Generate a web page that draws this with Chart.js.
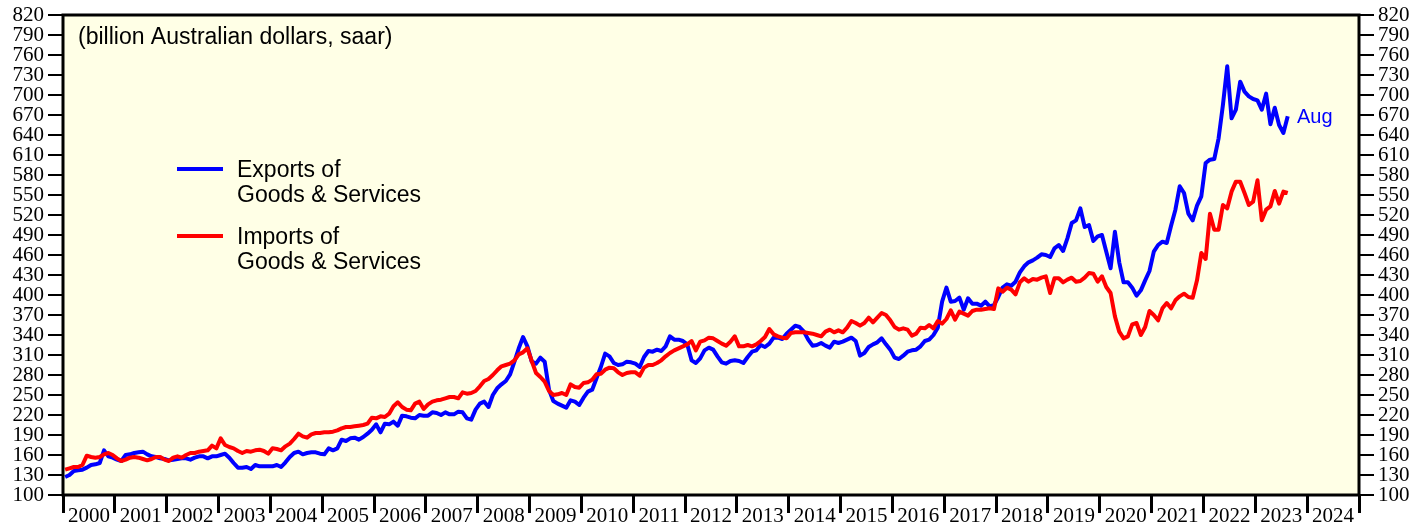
<!DOCTYPE html>
<html>
<head>
<meta charset="utf-8">
<script src="https://cdn.jsdelivr.net/npm/chart.js@4"></script>
<style>
  html, body { margin: 0; padding: 0; background: #fff; }
  #wrap { width: 1426px; height: 527px; }
</style>
</head>
<body>
<div id="wrap"><canvas id="chart"></canvas></div>
<script>
// monthly, Jan 2000 .. Aug 2023, billion AUD saar
const exportsBn = [
  127, 130, 136, 137, 138, 141, 145, 146, 148, 167, 158, 156, // 2000
  153, 151, 160, 161, 163, 164, 165, 161, 158, 157, 155, 154, // 2001
  152, 153, 154, 155, 155, 153, 156, 158, 158, 155, 158, 158, // 2002
  160, 162, 156, 148, 141, 141, 142, 139, 145, 143, 143, 143, // 2003
  143, 145, 142, 149, 157, 163, 165, 161, 163, 164, 164, 162, // 2004
  161, 170, 167, 170, 183, 181, 185, 186, 183, 187, 192, 198, // 2005
  206, 194, 207, 206, 210, 204, 219, 218, 216, 215, 220, 219, // 2006
  219, 224, 223, 220, 224, 221, 221, 225, 224, 215, 213, 228, // 2007
  237, 240, 232, 250, 260, 266, 271, 281, 300, 320, 337, 323, // 2008
  300, 297, 306, 300, 258, 241, 237, 234, 231, 242, 240, 235, // 2009
  246, 255, 258, 275, 292, 312, 308, 298, 295, 296, 300, 299, // 2010
  297, 292, 307, 316, 315, 318, 316, 323, 338, 333, 333, 331, // 2011
  326, 302, 298, 305, 317, 321, 318, 308, 299, 297, 301, 302, // 2012
  301, 298, 307, 315, 317, 325, 322, 327, 336, 336, 334, 342, // 2013
  348, 354, 352, 345, 333, 324, 325, 328, 324, 321, 330, 328, // 2014
  330, 333, 336, 331, 309, 313, 322, 326, 329, 335, 326, 318, // 2015
  306, 304, 309, 315, 317, 318, 323, 331, 333, 340, 351, 390, // 2016
  411, 390, 391, 396, 378, 395, 387, 387, 384, 390, 383, 385, // 2017
  397, 411, 416, 414, 420, 434, 443, 449, 452, 456, 461, 460, // 2018
  457, 470, 475, 466, 485, 508, 512, 530, 502, 505, 481, 488, // 2019
  490, 465, 440, 495, 449, 419, 419, 411, 399, 407, 422, 436, // 2020
  465, 475, 480, 478, 504, 528, 563, 553, 522, 512, 534, 548, // 2021
  598, 603, 604, 635, 685, 743, 665, 678, 720, 705, 698, 694, // 2022
  692, 678, 702, 656, 681, 655, 643, 668                      // 2023
];

const importsBn = [
  138, 140, 142, 142, 145, 159, 157, 156, 157, 161, 163, 160, // 2000
  155, 151, 153, 156, 157, 156, 154, 152, 154, 157, 157, 153, // 2001
  151, 156, 158, 156, 160, 163, 163, 165, 166, 167, 174, 170, // 2002
  185, 175, 172, 170, 166, 163, 166, 165, 167, 168, 166, 162, // 2003
  170, 169, 167, 173, 177, 184, 192, 188, 186, 191, 193, 193, // 2004
  194, 194, 195, 197, 200, 202, 202, 203, 204, 205, 207, 216, // 2005
  215, 218, 217, 222, 233, 239, 232, 228, 227, 237, 240, 229, // 2006
  236, 240, 242, 243, 245, 247, 247, 245, 254, 252, 253, 256, // 2007
  263, 271, 274, 280, 287, 293, 295, 297, 302, 311, 314, 320, // 2008
  301, 283, 277, 270, 256, 250, 251, 253, 250, 266, 262, 261, // 2009
  268, 269, 273, 281, 282, 288, 291, 290, 284, 280, 283, 284, // 2010
  284, 279, 291, 295, 295, 298, 302, 308, 313, 317, 320, 323, // 2011
  326, 331, 317, 330, 332, 336, 335, 331, 327, 324, 330, 338, // 2012
  323, 323, 325, 323, 326, 331, 337, 349, 341, 338, 336, 335, // 2013
  343, 344, 344, 344, 343, 342, 340, 338, 345, 348, 344, 347, // 2014
  344, 351, 361, 358, 354, 358, 366, 359, 366, 373, 370, 362, // 2015
  352, 348, 350, 348, 339, 342, 351, 350, 355, 350, 361, 357, // 2016
  364, 377, 363, 375, 372, 369, 376, 378, 378, 379, 380, 379, // 2017
  410, 405, 411, 408, 401, 419, 425, 420, 424, 423, 426, 428, // 2018
  403, 425, 425, 419, 423, 426, 420, 421, 426, 433, 432, 420, // 2019
  428, 412, 403, 368, 345, 335, 338, 356, 358, 340, 352, 376, // 2020
  370, 362, 380, 388, 380, 392, 398, 402, 397, 396, 422, 463, // 2021
  454, 522, 498, 498, 535, 530, 555, 570, 570, 553, 535, 540, // 2022
  572, 512, 528, 533, 556, 537, 555, 553                      // 2023
];

const firstYear = 2000;
const lastYear = 2024;
const yMin = 100;
const yMax = 820;
const yStep = 30;

const BLUE = '#0000ff';
const RED = '#ff0000';
const PLOT_BG = '#ffffe6';
const SERIF = '"Liberation Serif", "Times New Roman", serif';
const SANS = '"Liberation Sans", Arial, sans-serif';

// x in months since Jan 2000, points at mid-month
const toPoints = (arr) => arr.map((v, i) => ({ x: i + 0.5, y: v }));

const nMonths = (lastYear - firstYear + 1) * 12;

const frame = {
  id: 'frame',
  beforeDraw(chart) {
    const { ctx, chartArea: a } = chart;
    ctx.save();
    ctx.fillStyle = '#fff';
    ctx.fillRect(0, 0, chart.width, chart.height);
    ctx.fillStyle = PLOT_BG;
    ctx.fillRect(a.left, a.top, a.right - a.left, a.bottom - a.top);
    ctx.restore();
  },
  afterDraw(chart) {
    const { ctx, chartArea: a } = chart;
    ctx.save();
    ctx.strokeStyle = '#000';
    ctx.lineWidth = 3;
    ctx.strokeRect(a.left, a.top, a.right - a.left, a.bottom - a.top);

    ctx.fillStyle = '#000';
    ctx.font = '23px ' + SANS;
    ctx.textBaseline = 'alphabetic';
    ctx.fillText('(billion Australian dollars, saar)', 78, 44);

    // legend
    ctx.lineWidth = 4;
    ctx.strokeStyle = BLUE;
    ctx.beginPath(); ctx.moveTo(177, 169); ctx.lineTo(223, 169); ctx.stroke();
    ctx.strokeStyle = RED;
    ctx.beginPath(); ctx.moveTo(177, 236); ctx.lineTo(223, 236); ctx.stroke();
    ctx.fillText('Exports of', 237, 177);
    ctx.fillText('Goods & Services', 237, 202);
    ctx.fillText('Imports of', 237, 244);
    ctx.fillText('Goods & Services', 237, 269);

    ctx.fillStyle = BLUE;
    ctx.font = '20px ' + SANS;
    ctx.fillText('Aug', 1297, 123);
    ctx.restore();
  },
};

const yAxis = (position, width) => ({
  type: 'linear',
  position,
  min: yMin,
  max: yMax,
  border: { display: false },
  grid: { drawOnChartArea: false, tickLength: 15, tickColor: '#000', lineWidth: 2 },
  ticks: {
    stepSize: yStep,
    autoSkip: false,
    color: '#000',
    padding: 4,
    font: { family: SERIF, size: 21, lineHeight: 1 },
  },
  afterFit(scale) { scale.width = width; },
});

new Chart(document.getElementById('chart'), {
  type: 'line',
  data: {
    datasets: [
      {
        label: 'Imports of Goods & Services',
        data: toPoints(importsBn),
        borderColor: RED,
        borderWidth: 4,
        pointRadius: 0,
        tension: 0,
        borderJoinStyle: 'round',
        yAxisID: 'y',
      },
      {
        label: 'Exports of Goods & Services',
        data: toPoints(exportsBn),
        borderColor: BLUE,
        borderWidth: 4,
        pointRadius: 0,
        tension: 0,
        borderJoinStyle: 'round',
        yAxisID: 'y',
      },
    ],
  },
  options: {
    responsive: true,
    maintainAspectRatio: false,
    animation: false,
    devicePixelRatio: 1,
    layout: { padding: { top: 15, left: 0, right: 0, bottom: 0 } },
    plugins: { legend: { display: false }, tooltip: { enabled: false } },
    scales: {
      x: {
        type: 'linear',
        min: 0,
        max: nMonths,
        border: { display: false },
        afterBuildTicks(axis) {
          const t = [];
          for (let y = 0; y <= lastYear - firstYear + 1; y++) {
            t.push({ value: y * 12 });
            if (y <= lastYear - firstYear) t.push({ value: y * 12 + 6 });
          }
          axis.ticks = t;
        },
        grid: {
          drawOnChartArea: false,
          tickLength: 18,
          lineWidth: 3,
          tickColor: (c) => (c.tick && c.tick.value % 12 === 0 ? '#000' : 'rgba(0,0,0,0)'),
        },
        ticks: {
          autoSkip: false,
          maxRotation: 0,
          color: '#000',
          padding: -7,
          font: { family: SERIF, size: 21, lineHeight: 1 },
          callback: (v) => (v % 12 === 6 ? String(firstYear + (v - 6) / 12) : ''),
        },
        afterFit(scale) { scale.height = 32; },
      },
      y: yAxis('left', 63),
      y2: yAxis('right', 67),
    },
  },
  plugins: [frame],
});
</script>
</body>
</html>
